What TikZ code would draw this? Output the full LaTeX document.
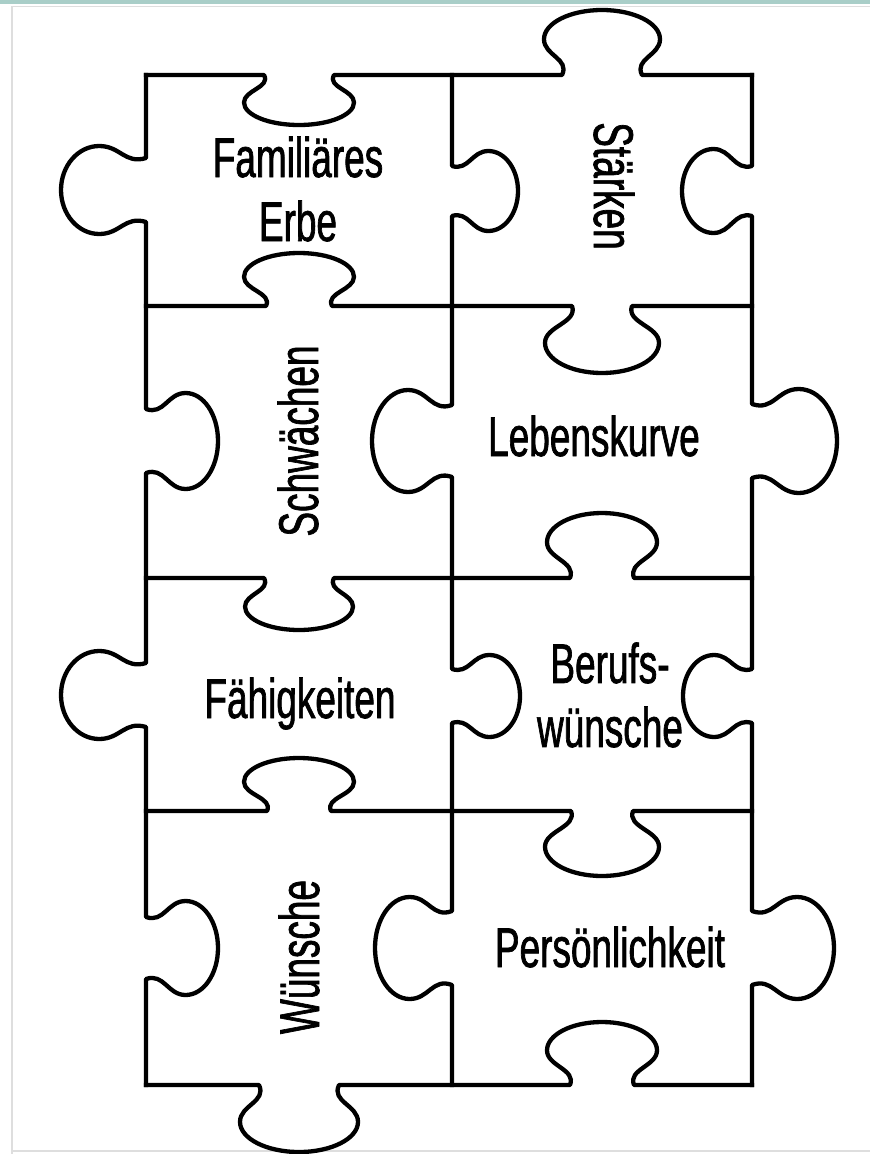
\documentclass[tikz,border=0pt]{standalone}
\usepackage{fontspec}
\setmainfont{Liberation Sans}[FakeStretch=0.66, FakeBold=1.2]
\usepackage{tikz}
\definecolor{topbar}{RGB}{169,206,200}
\definecolor{framegray}{RGB}{222,222,222}
% knob on a horizontal cut: centre x, y, direction (1 down, -1 up), neck, bulb, depth
\newcommand{\hknob}[6]{%
  -- ({#1-#4},#2)
  .. controls ({#1-0.8*#4},{#2+(#3)*0.25*#6}) and ({#1-#5},{#2+(#3)*0.3*#6}) .. ({#1-#5},{#2+(#3)*0.55*#6})
  .. controls ({#1-#5},{#2+(#3)*0.8*#6}) and ({#1-0.55*#5},{#2+(#3)*#6}) .. (#1,{#2+(#3)*#6})
  .. controls ({#1+0.55*#5},{#2+(#3)*#6}) and ({#1+#5},{#2+(#3)*0.8*#6}) .. ({#1+#5},{#2+(#3)*0.55*#6})
  .. controls ({#1+#5},{#2+(#3)*0.3*#6}) and ({#1+0.8*#4},{#2+(#3)*0.25*#6}) .. ({#1+#4},#2)}
% knob on a vertical cut: x, centre y, direction (1 right, -1 left), neck, bulb, depth
\newcommand{\vknob}[6]{%
  -- (#1,{#2-#4})
  .. controls ({#1+(#3)*0.25*#6},{#2-0.8*#4}) and ({#1+(#3)*0.3*#6},{#2-#5}) .. ({#1+(#3)*0.55*#6},{#2-#5})
  .. controls ({#1+(#3)*0.8*#6},{#2-#5}) and ({#1+(#3)*#6},{#2-0.55*#5}) .. ({#1+(#3)*#6},#2)
  .. controls ({#1+(#3)*#6},{#2+0.55*#5}) and ({#1+(#3)*0.8*#6},{#2+#5}) .. ({#1+(#3)*0.55*#6},{#2+#5})
  .. controls ({#1+(#3)*0.3*#6},{#2+#5}) and ({#1+(#3)*0.25*#6},{#2+0.8*#4}) .. (#1,{#2+#4})}
\tikzstyle{puzzleline} = [draw=black, line width=4.3pt, line cap=rect, line join=round]
\tikzstyle{piecetext} = [inner sep=0pt, font=\fontsize{56}{64}\selectfont]

\begin{document}
\begin{tikzpicture}[x=1pt, y=-1pt]
\useasboundingbox (0,0) rectangle (870,1154);
\fill[topbar] (0,0) rectangle (870,4);
\draw[framegray, line width=1.5pt] (12,6) -- (12,1154);
\draw[framegray, line width=1pt] (12,6) -- (870,6);
\draw[framegray, line width=1.5pt] (12,1151) -- (870,1151);

% horizontal cuts
\draw[puzzleline] (146,75) \hknob{299}{75}{1}{35}{55}{50} \hknob{602}{75}{-1}{40}{58}{65} -- (752,75);
\draw[puzzleline] (146,306) \hknob{299}{306}{-1}{33}{55}{53} \hknob{602}{306}{1}{30}{57}{67} -- (752,306);
\draw[puzzleline] (146,578) \hknob{299}{578}{1}{35}{54}{52} \hknob{602}{578}{-1}{32}{55}{65} -- (752,578);
\draw[puzzleline] (146,811) \hknob{299}{811}{-1}{32}{55}{53} \hknob{602}{811}{1}{31}{57}{65} -- (752,811);
\draw[puzzleline] (146,1085) \hknob{299}{1085}{1}{40}{59}{67} \hknob{602}{1085}{-1}{32}{55}{63} -- (752,1085);
% vertical cuts
\draw[puzzleline] (146,75) \vknob{146}{190}{-1}{32}{44}{85} \vknob{146}{441}{1}{32}{48}{72} \vknob{146}{695}{-1}{32}{44}{85} \vknob{146}{948}{1}{31}{47}{72} -- (146,1085);
\draw[puzzleline] (452,75) \vknob{452}{191}{1}{25}{40}{66} \vknob{452}{441}{-1}{36}{51}{80} \vknob{452}{696}{1}{27}{41}{68} \vknob{452}{948}{-1}{37}{51}{77} -- (452,1085);
\draw[puzzleline] (752,75) \vknob{752}{191}{-1}{25}{42}{70} \vknob{752}{441}{1}{37}{52}{85} \vknob{752}{696}{-1}{27}{41}{69} \vknob{752}{948}{1}{37}{51}{82} -- (752,1085);

\node[piecetext, align=center] (erbe) at (298,189) {Familiäres\\Erbe};
\node[piecetext, rotate=-90] (staerken) at (614,186) {Stärken};
\node[piecetext, rotate=90] (schwaechen) at (298,441) {Schwächen};
\node[piecetext, anchor=base] (lebenskurve) at (594,456) {Lebenskurve};
\node[piecetext, anchor=base] (faehigkeiten) at (300,718) {Fähigkeiten};
\node[piecetext, align=center] (berufswuensche) at (610,695) {Berufs-\\wünsche};
\node[piecetext, rotate=90] (wuensche) at (299,957) {Wünsche};
\node[piecetext, anchor=base] (persoenlichkeit) at (610,967) {Persönlichkeit};
\end{tikzpicture}
\end{document}
